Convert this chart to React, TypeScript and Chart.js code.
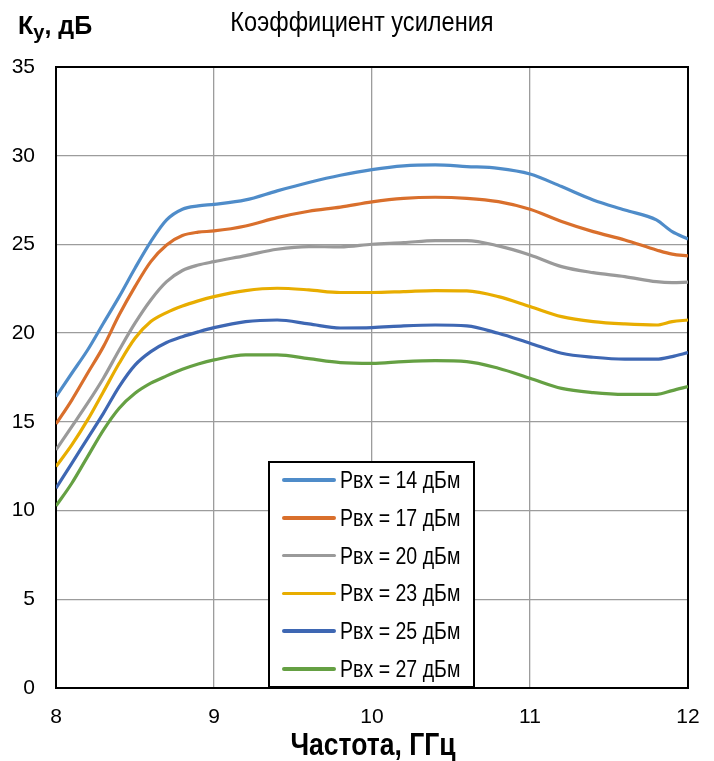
import React, { useEffect, useRef } from "react";
import { Chart, registerables } from "chart.js";

Chart.register(...registerables);

const FONT = "'Liberation Sans', Arial, sans-serif";

const chartTitle = "Коэффициент усиления";
const xAxisTitle = "Частота, ГГц";
const yLabelMain = "К";
const yLabelSub = "у";
const yLabelUnit = ", дБ";

const frequencies = [
  8.0, 8.1, 8.2, 8.3, 8.4, 8.5, 8.6, 8.7, 8.8, 8.9, 9.0, 9.2, 9.4, 9.6, 9.8, 10.0,
  10.2, 10.4, 10.6, 10.8, 11.0, 11.2, 11.4, 11.6, 11.8, 11.9, 12.0,
];

const gain14 = [
  16.42, 17.74, 19.05, 20.56, 22.06, 23.66, 25.16, 26.38, 26.98, 27.17, 27.26, 27.51, 28.02, 28.49, 28.9, 29.22,
  29.43, 29.48, 29.39, 29.29, 28.97, 28.26, 27.51, 26.94, 26.38, 25.72, 25.31,
];
const gain17 = [
  14.88, 16.23, 17.74, 19.24, 21.03, 22.62, 24.03, 24.97, 25.5, 25.69, 25.76, 26.04, 26.51, 26.87, 27.1, 27.4,
  27.6, 27.66, 27.6, 27.41, 26.98, 26.29, 25.72, 25.25, 24.69, 24.45, 24.35,
];
const gain20 = [
  13.42, 14.73, 16.05, 17.46, 19.05, 20.56, 21.87, 22.9, 23.53, 23.84, 24.03, 24.37, 24.73, 24.88, 24.86, 25.01,
  25.1, 25.22, 25.22, 24.92, 24.41, 23.75, 23.41, 23.19, 22.9, 22.85, 22.87,
];
const gain23 = [
  12.48, 13.7, 15.11, 16.7, 18.3, 19.71, 20.65, 21.16, 21.53, 21.82, 22.06, 22.4, 22.53, 22.44, 22.29, 22.29,
  22.34, 22.4, 22.38, 22.06, 21.5, 20.93, 20.65, 20.52, 20.46, 20.65, 20.74,
];
const gain25 = [
  11.26, 12.66, 14.07, 15.48, 16.99, 18.2, 18.96, 19.47, 19.8, 20.07, 20.31, 20.65, 20.74, 20.52, 20.29, 20.31,
  20.41, 20.46, 20.41, 19.99, 19.43, 18.87, 18.64, 18.53, 18.53, 18.68, 18.9,
];
const gain27 = [
  10.26, 11.54, 13.04, 14.54, 15.77, 16.61, 17.18, 17.59, 17.96, 18.26, 18.49, 18.77, 18.77, 18.56, 18.34, 18.3,
  18.4, 18.45, 18.4, 18.02, 17.46, 16.89, 16.65, 16.55, 16.55, 16.76, 16.99,
];

const seriesLabels = [
  "Рвх = 14 дБм",
  "Рвх = 17 дБм",
  "Рвх = 20 дБм",
  "Рвх = 23 дБм",
  "Рвх = 25 дБм",
  "Рвх = 27 дБм",
];
const seriesValues = [gain14, gain17, gain20, gain23, gain25, gain27];
const seriesColors = ["#4f8cc9", "#d96f2c", "#9a9a9a", "#e8ad00", "#3e67b3", "#65a043"];

const plotFrame = {
  id: "plotFrame",
  beforeDatasetsDraw(chart: any) {
    const { ctx, chartArea } = chart;
    ctx.save();
    ctx.strokeStyle = "#000";
    ctx.lineWidth = 2;
    ctx.strokeRect(chartArea.left, chartArea.top, chartArea.right - chartArea.left, chartArea.bottom - chartArea.top);
    ctx.restore();
  },
};

export default function App() {
  const canvasRef = useRef<HTMLCanvasElement | null>(null);

  useEffect(() => {
    if (!canvasRef.current) return;
    const chart = new Chart(canvasRef.current, {
      type: "line",
      data: {
        datasets: seriesLabels.map((label, i) => ({
          label,
          data: frequencies.map((f, j) => ({ x: f, y: seriesValues[i][j] })),
          borderColor: seriesColors[i],
          backgroundColor: seriesColors[i],
          borderWidth: 3.2,
          pointRadius: 0,
          cubicInterpolationMode: "monotone" as const,
          fill: false,
        })),
      },
      plugins: [plotFrame],
      options: {
        animation: false,
        responsive: false,
        layout: { padding: { left: 0, right: 26, top: 67, bottom: 0 } },
        plugins: {
          legend: { display: false },
          tooltip: { enabled: false },
          title: { display: false },
        },
        scales: {
          x: {
            type: "linear",
            min: 8,
            max: 12,
            ticks: {
              stepSize: 1,
              color: "#000",
              padding: 17,
              font: { family: FONT, size: 21, lineHeight: 1.2 },
            },
            grid: { color: "#9c9c9c", lineWidth: 1.3, drawTicks: false },
            border: { display: false },
            afterFit(scale: any) {
              scale.height = 73;
              scale.paddingLeft = 0;
              scale.paddingRight = 0;
            },
          },
          y: {
            min: 0,
            max: 35,
            ticks: {
              stepSize: 5,
              color: "#000",
              padding: 21,
              font: { family: FONT, size: 21 },
            },
            grid: { color: "#9c9c9c", lineWidth: 1.3, drawTicks: false },
            border: { display: false },
            afterFit(scale: any) {
              scale.width = 56;
              scale.paddingTop = 0;
              scale.paddingBottom = 0;
            },
          },
        },
      },
    });
    return () => chart.destroy();
  }, []);

  return (
    <div style={{ position: "absolute", left: 0, top: 0, width: 714, height: 761, background: "#fff", fontFamily: FONT, color: "#000" }}>
      <canvas ref={canvasRef} width={714} height={761} style={{ display: "block", width: 714, height: 761 }} />
      <div
        style={{
          position: "absolute",
          left: 362,
          top: 9,
          fontSize: 27,
          lineHeight: "27px",
          whiteSpace: "nowrap",
          transform: "translateX(-50%) scaleX(0.873)",
        }}
      >
        {chartTitle}
      </div>
      <div
        style={{
          position: "absolute",
          left: 372.5,
          top: 729,
          fontSize: 31,
          fontWeight: "bold",
          lineHeight: "31px",
          whiteSpace: "nowrap",
          transform: "translateX(-50%) scaleX(0.855)",
        }}
      >
        {xAxisTitle}
      </div>
      <div
        style={{
          position: "absolute",
          left: 18,
          top: 8,
          fontWeight: "bold",
          fontSize: 25,
          lineHeight: "34px",
          whiteSpace: "nowrap",
        }}
      >
        {yLabelMain}
        <span style={{ fontSize: 20, position: "relative", top: 5 }}>{yLabelSub}</span>
        {yLabelUnit}
      </div>
      <div
        style={{
          position: "absolute",
          left: 268,
          top: 461,
          width: 207,
          height: 227,
          boxSizing: "border-box",
          border: "2px solid #000",
          background: "#fff",
        }}
      >
        {seriesLabels.map((label, i) => (
          <div
            key={label}
            style={{
              position: "absolute",
              left: 12,
              top: 17 + i * 37.8 - 14,
              height: 28,
              display: "flex",
              alignItems: "center",
              whiteSpace: "nowrap",
            }}
          >
            <span style={{ display: "inline-block", width: 54, height: 3.5, background: seriesColors[i], marginRight: 4, borderRadius: 2 }} />
            <span style={{ display: "inline-block", fontSize: 23, lineHeight: "28px", transform: "scaleX(0.85)", transformOrigin: "left center" }}>
              {label}
            </span>
          </div>
        ))}
      </div>
    </div>
  );
}
